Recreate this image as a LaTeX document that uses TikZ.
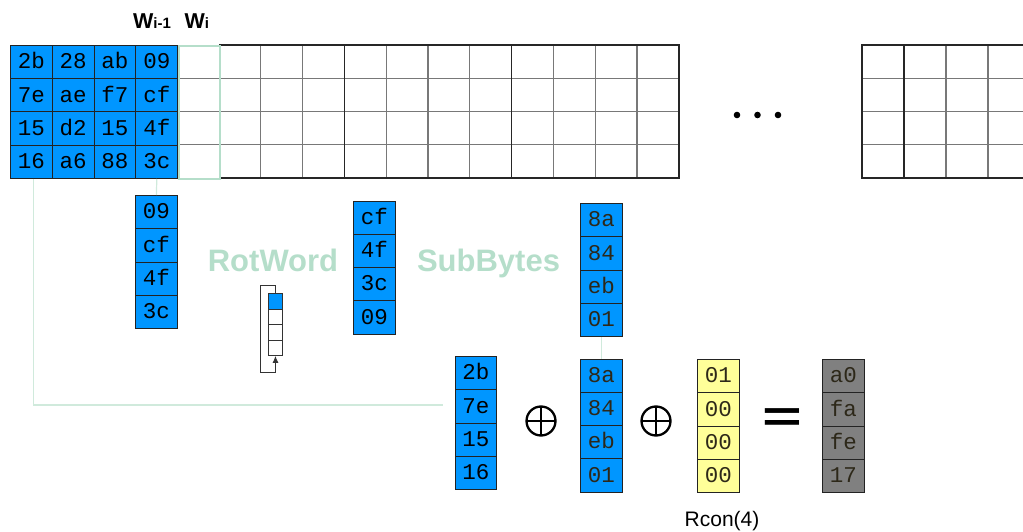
\documentclass[tikz,border=0pt]{standalone}
\usepackage{fontspec}
\setmainfont{Liberation Sans}
\newfontfamily\hexfont{Liberation Mono}
\usetikzlibrary{arrows.meta}
\definecolor{aesblue}{RGB}{0,150,255}
\definecolor{aesyellow}{RGB}{255,255,153}
\definecolor{aesgray}{RGB}{128,128,128}
\definecolor{lightgreen}{RGB}{181,222,202}
\definecolor{linegreen}{RGB}{208,234,220}
\definecolor{cellline}{RGB}{35,35,35}
\definecolor{gridthinc}{RGB}{120,120,120}
\definecolor{darktext}{RGB}{45,40,25}
\tikzset{
  cell/.style={draw=cellline, line width=1pt, minimum width=41.8pt, minimum height=33.25pt,
    inner sep=0pt, anchor=north west, text height=13.5pt, text depth=0pt,
    font=\hexfont\fontsize{22.5}{22.5}\selectfont},
  bluecell/.style={cell, fill=aesblue},
  yelcell/.style={cell, fill=aesyellow, text=darktext},
  graycell/.style={cell, fill=aesgray, text=darktext},
  darkblue/.style={cell, fill=aesblue, text=darktext},
  gridthin/.style={draw=gridthinc, line width=1.1pt},
  gridthick/.style={draw=black!85, line width=1.7pt},
  conn/.style={draw=linegreen, line width=1.2pt},
  steplabel/.style={text=lightgreen, font=\bfseries\fontsize{31}{31}\selectfont, anchor=base},
  oplusnode/.style={circle, draw=black, line width=2.3pt, minimum size=29pt, inner sep=0pt,
    path picture={\draw[line width=2.3pt] (path picture bounding box.north) -- (path picture bounding box.south)
      (path picture bounding box.west) -- (path picture bounding box.east);}},
  iconcell/.style={draw=black!80, line width=0.9pt, minimum width=14pt, minimum height=15.5pt,
    inner sep=0pt, anchor=north west, fill=white},
  loopline/.style={draw=black!80, line width=0.9pt}
}
\begin{document}
\begin{tikzpicture}[x=1pt,y=-1pt]
\useasboundingbox (0,0) rectangle (1023,532);

% ---- empty key-schedule grid, first part
\foreach \y in {78.25,111.5,144.75} \draw[gridthin] (177,\y) -- (679,\y);
\foreach \x in {260.8,302.6,386.2,428,469.8,553.4,595.2,637} \draw[gridthin] (\x,45) -- (\x,178);
\foreach \x in {344.4,511.6} \draw[gridthick] (\x,45) -- (\x,178);
\draw[gridthick] (219,45) -- (679,45) -- (679,178) -- (219,178);

% ---- second part
\foreach \y in {78.25,111.5,144.75} \draw[gridthin] (862,\y) -- (1023,\y);
\foreach \x in {946,988} \draw[gridthin] (\x,45) -- (\x,178);
\draw[gridthick] (904,45) -- (904,178);
\draw[gridthick] (1023,45) -- (862,45) -- (862,178) -- (1023,178);

% ---- dots
\fill (737,115) circle (3.3pt);
\fill (757.5,115) circle (3.3pt);
\fill (778,115) circle (3.3pt);

% ---- first key block (blue)
\foreach \t [count=\c] in {2b,28,ab,09}
  \node[bluecell] (m-1-\c) at ({10+(\c-1)*41.8},45) {\t};
\foreach \t [count=\c] in {7e,ae,f7,cf}
  \node[bluecell] (m-2-\c) at ({10+(\c-1)*41.8},78.25) {\t};
\foreach \t [count=\c] in {15,d2,15,4f}
  \node[bluecell] (m-3-\c) at ({10+(\c-1)*41.8},111.5) {\t};
\foreach \t [count=\c] in {16,a6,88,3c}
  \node[bluecell] (m-4-\c) at ({10+(\c-1)*41.8},144.75) {\t};

% ---- W_i column box
\node[draw=lightgreen, line width=2pt, minimum width=41.4pt, minimum height=133pt,
  inner sep=0pt, anchor=north west] (wi) at (177.6,45) {};

% ---- labels W
\node[anchor=base west, inner sep=0pt] (lwa) at (133,28.5)
  {\bfseries\fontsize{21.5}{21.5}\selectfont W\fontsize{15}{15}\selectfont i-1};
\node[anchor=base west, inner sep=0pt] (lwb) at (184.5,28.5)
  {\bfseries\fontsize{21.5}{21.5}\selectfont W\fontsize{15}{15}\selectfont i};

% ---- word columns
\foreach \t [count=\i] in {09,cf,4f,3c}
  \node[bluecell] (a\i) at (135,{195+(\i-1)*33.25}) {\t};
\foreach \t [count=\i] in {cf,4f,3c,09}
  \node[bluecell] (b\i) at (353,{200.5+(\i-1)*33.25}) {\t};
\foreach \t [count=\i] in {8a,84,eb,01}
  \node[darkblue] (c\i) at (580,{203+(\i-1)*33.25}) {\t};
\foreach \t [count=\i] in {2b,7e,15,16}
  \node[bluecell] (d\i) at (454.5,{356+(\i-1)*33.25}) {\t};
\foreach \t [count=\i] in {8a,84,eb,01}
  \node[darkblue] (e\i) at (580,{358.5+(\i-1)*33.25}) {\t};
\foreach \t [count=\i] in {01,00,00,00}
  \node[yelcell] (f\i) at (697,{359+(\i-1)*33.25}) {\t};
\foreach \t [count=\i] in {a0,fa,fe,17}
  \node[graycell] (g\i) at (822,{359+(\i-1)*33.25}) {\t};

% ---- step labels
\node[steplabel] (rot) at (273,271) {RotWord};
\node[steplabel] (sub) at (488.5,271) {SubBytes};
\node[anchor=base, font=\fontsize{21}{21}\selectfont] (rcon) at (722,526) {Rcon(4)};

% ---- operators
\node[oplusnode] (op1) at (541,421) {};
\node[oplusnode] (op2) at (656,421) {};
\node[inner sep=0pt] (eq) at (782,420)
  {\scalebox{1.55}[1]{\bfseries\fontsize{44}{44}\selectfont =}};

% ---- connectors
\coordinate (gend) at (443,405);
\draw[conn] ([xshift=2pt]m-4-1.south) |- (gend);
\draw[conn] (m-4-4.south) -- (a1.north);
\draw[conn] (c4.south) -- (e1.north);

% ---- rotation icon
\foreach \i in {1,2,3,4}
  \node[iconcell] (ic\i) at (268,{293+(\i-1)*15.5}) {};
\fill[aesblue] ([shift={(0.5pt,-0.5pt)}]ic1.north west) rectangle ([shift={(-0.5pt,0.5pt)}]ic1.south east);
\draw[loopline] (ic1.north west) rectangle (ic1.south east);
\coordinate (lpa) at (260,285);
\coordinate (lpb) at (260,372);
\draw[loopline, -{Latex[length=7pt,width=6pt]}] (ic1.north) |- (lpa) -- (lpb) -| (ic4.south);
\end{tikzpicture}
\end{document}
